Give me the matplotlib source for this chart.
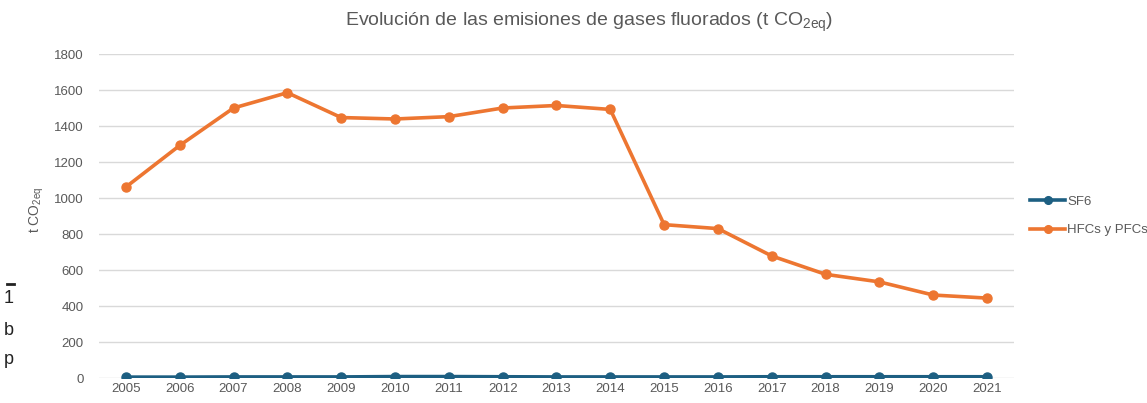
import matplotlib.pyplot as plt
from matplotlib import font_manager

# Data
years = ["2005", "2006", "2007", "2008", "2009", "2010", "2011", "2012", "2013",
         "2014", "2015", "2016", "2017", "2018", "2019", "2020", "2021"]
sf6 = [5, 5, 6, 6, 6, 8, 8, 7, 6, 6, 6, 6, 7, 7, 7, 7, 7]
hfc_pfc = [1061, 1292, 1500, 1585, 1447, 1439, 1452, 1500, 1514, 1492,
           852, 830, 678, 576, 534, 461, 444]
series_names = ["SF6", "HFCs y PFCs"]
yticks = [0, 200, 400, 600, 800, 1000, 1200, 1400, 1600, 1800]

names = {f.name for f in font_manager.fontManager.ttflist}
fam = "Liberation Sans Narrow" if "Liberation Sans Narrow" in names else "Liberation Sans"
plt.rcParams['font.family'] = [fam, 'DejaVu Sans']
plt.rcParams['mathtext.fontset'] = 'custom'
plt.rcParams['mathtext.rm'] = fam

grey = "#595959"
fig = plt.figure(figsize=(11.47, 4.03), dpi=100)
ax = fig.add_axes([0.0863, 0.062, 0.7977, 0.804])

x = list(range(len(years)))
ax.plot(x, sf6, color="#1d5f82", lw=2.6, marker="o", ms=6.5, label=series_names[0], zorder=3)
ax.plot(x, hfc_pfc, color="#ed7631", lw=2.6, marker="o", ms=6.5, label=series_names[1], zorder=3)

ax.set_xlim(-0.5, len(years) - 0.5)
ax.set_ylim(0, 1800)
ax.set_yticks(yticks)
ax.set_xticks(x)
ax.set_xticklabels(years)
ax.tick_params(axis="both", length=0, labelsize=9.5, colors=grey)
ax.tick_params(axis="y", pad=11)
ax.grid(axis="y", color="#d9d9d9", lw=1)
ax.set_axisbelow(True)
for s in ax.spines.values():
    s.set_visible(False)

ax.set_ylabel(r"t CO$_{\mathrm{2eq}}$", color=grey, fontsize=10, labelpad=3)
ax.yaxis.set_label_coords(-0.058, 0.52)
fig.text(0.514, 0.945, r"Evolución de las emisiones de gases fluorados (t CO$_{\mathrm{2eq}}$)",
         ha="center", va="center", fontsize=14, color=grey)

ax.legend(loc="center left", bbox_to_anchor=(1.005, 0.5), frameon=False,
          fontsize=9.5, labelcolor=grey, handlelength=2.6, handletextpad=0.2,
          labelspacing=1.2, markerscale=0.85)

# cut-off page text on the left edge
fig.text(0.003, 0.26, "1", fontsize=13, color="#222222", va="center")
fig.text(0.003, 0.18, "b", fontsize=13, color="#222222", va="center")
fig.text(0.003, 0.107, "p", fontsize=13, color="#222222", va="center")
fig.lines.append(plt.Line2D([0.006, 0.012], [0.295, 0.295], transform=fig.transFigure,
                            color="#222222", lw=2))

fig.savefig("out.png", dpi=100)
